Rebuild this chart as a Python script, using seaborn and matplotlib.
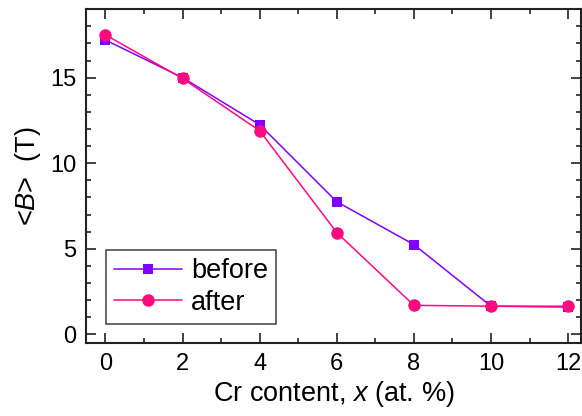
import matplotlib
matplotlib.use("Agg")
import matplotlib.pyplot as plt
import seaborn as sns
import pandas as pd
from matplotlib.ticker import MultipleLocator

x_cr = [0, 2, 4, 6, 8, 10, 12]
before = [17.2, 15.0, 12.25, 7.75, 5.25, 1.65, 1.6]
after = [17.5, 14.95, 11.9, 5.95, 1.7, 1.65, 1.65]
series_names = ["before", "after"]

sns.set_theme(style="ticks")
plt.rcParams['font.family'] = ['Liberation Sans', 'DejaVu Sans']
plt.rcParams['mathtext.fontset'] = 'custom'
plt.rcParams['mathtext.it'] = 'Liberation Sans:italic'
plt.rcParams['mathtext.rm'] = 'Liberation Sans'
plt.rcParams['text.color'] = 'black'
plt.rcParams['axes.labelcolor'] = 'black'

df = pd.DataFrame({
    "x": x_cr * 2,
    "B": before + after,
    "series": [series_names[0]] * len(x_cr) + [series_names[1]] * len(x_cr),
})

fig = plt.figure(figsize=(5.82, 4.16), dpi=100)
ax = fig.add_axes([0.148, 0.1755, 0.85, 0.8025])

palette = {"before": "#8000FF", "after": "#FF0A7F"}
markers = {"before": "s", "after": "o"}
sizes = {"before": 7, "after": 9}
for name in series_names:
    sub = df[df.series == name]
    sns.lineplot(data=sub, x="x", y="B", ax=ax, color=palette[name],
                 marker=markers[name], markersize=sizes[name],
                 markeredgewidth=0, linewidth=1.1, label=name)

ax.set_xlim(-0.5, 12.33)
ax.set_ylim(-0.5, 19)
ax.xaxis.set_major_locator(MultipleLocator(2))
ax.xaxis.set_minor_locator(MultipleLocator(1))
ax.yaxis.set_major_locator(MultipleLocator(5))
ax.yaxis.set_minor_locator(MultipleLocator(1))
ax.tick_params(which="both", direction="in", top=True, right=True,
               labelsize=17, width=1.2, colors="#222222", labelcolor="black")
ax.tick_params(which="major", length=7, pad=7)
ax.tick_params(which="minor", length=3.5)
for s in ax.spines.values():
    s.set_linewidth(1.5)
    s.set_color("#222222")

ax.set_xlabel("Cr content, $\\it{x}$ (at. %)", fontsize=19.5, labelpad=3)
ax.set_ylabel("<$\\it{B}$>  (T)", fontsize=19.5, labelpad=5)

leg = ax.legend(loc="lower left", bbox_to_anchor=(0.04, 0.058), fontsize=19.5,
                frameon=True, fancybox=False, edgecolor="#222222",
                handlelength=2.5, borderpad=0.3, labelspacing=0.2, handletextpad=0.35,
                borderaxespad=0)
leg.get_frame().set_linewidth(1.2)

fig.savefig("out.png", dpi=100)
